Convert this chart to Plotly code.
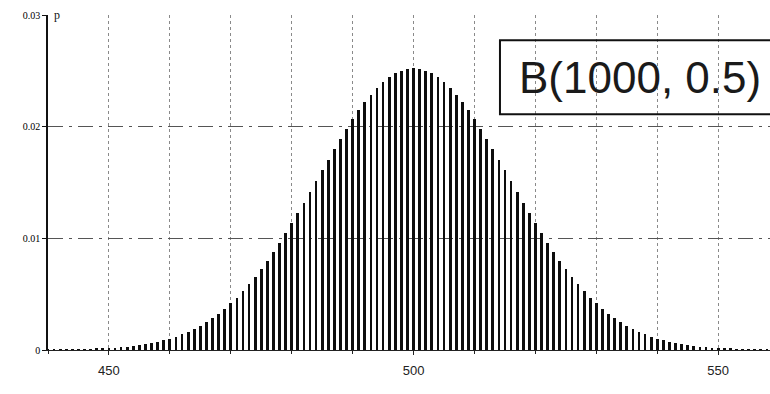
import plotly.graph_objects as go

# Number of successes k and its probability p(k) for B(1000, 0.5)
k_values = list(range(440, 559))
p_values = [
    # k = 440 .. 499
    0.00002, 0.00002, 0.00003, 0.00004, 0.00005, 0.00006, 0.00007, 0.00009, 0.00011, 0.00014,
    0.00017, 0.00021, 0.00025, 0.00030, 0.00037, 0.00044, 0.00053, 0.00063, 0.00074, 0.00087,
    0.00103, 0.00120, 0.00141, 0.00163, 0.00189, 0.00218, 0.00250, 0.00286, 0.00325, 0.00369,
    0.00417, 0.00469, 0.00526, 0.00587, 0.00653, 0.00723, 0.00797, 0.00876, 0.00958, 0.01044,
    0.01134, 0.01226, 0.01320, 0.01415, 0.01512, 0.01609, 0.01705, 0.01799, 0.01892, 0.01981,
    0.02066, 0.02146, 0.02220, 0.02287, 0.02348, 0.02400, 0.02444, 0.02478, 0.02503, 0.02518,
    # k = 500
    0.02523,
    # k = 501 .. 558
    0.02518, 0.02503, 0.02478, 0.02444, 0.02400, 0.02348, 0.02287, 0.02220, 0.02146, 0.02066,
    0.01981, 0.01892, 0.01799, 0.01705, 0.01609, 0.01512, 0.01415, 0.01320, 0.01226, 0.01134,
    0.01044, 0.00958, 0.00876, 0.00797, 0.00723, 0.00653, 0.00587, 0.00526, 0.00469, 0.00417,
    0.00369, 0.00325, 0.00286, 0.00250, 0.00218, 0.00189, 0.00163, 0.00141, 0.00120, 0.00103,
    0.00087, 0.00074, 0.00063, 0.00053, 0.00044, 0.00037, 0.00030, 0.00025, 0.00021, 0.00017,
    0.00014, 0.00011, 0.00009, 0.00007, 0.00006, 0.00005, 0.00004, 0.00003,
]

x_ticks = [450, 500, 550]
y_ticks = [0, 0.01, 0.02, 0.03]
y_tick_text = ["0", "0.01", "0.02", "0.03"]
title_text = "B(1000, 0.5)"

fig = go.Figure()
fig.add_trace(go.Bar(
    x=k_values,
    y=p_values,
    width=0.45,
    marker=dict(color="#0d0d0d", line=dict(width=0)),
    hoverinfo="x+y",
))

fig.update_layout(
    width=770,
    height=394,
    margin=dict(l=48, r=0, t=15, b=44),
    paper_bgcolor="white",
    plot_bgcolor="white",
    showlegend=False,
    bargap=0,
    xaxis=dict(
        range=[440, 558.5],
        tickvals=x_ticks,
        ticktext=[str(v) for v in x_ticks],
        ticks="outside",
        ticklen=4,
        tickcolor="#222",
        ticklabelstandoff=4,
        showline=True,
        linecolor="#222",
        linewidth=1,
        showgrid=True,
        gridcolor="#8a8a8a",
        gridwidth=1,
        griddash="dot",
        zeroline=False,
        minor=dict(
            dtick=10,
            tick0=440,
            showgrid=True,
            gridcolor="#8a8a8a",
            gridwidth=1,
            griddash="dot",
            ticks="outside",
            ticklen=3,
            tickcolor="#222",
        ),
        tickfont=dict(family="Liberation Sans, Arial", size=13, color="#222"),
    ),
    yaxis=dict(
        range=[0, 0.03],
        tickvals=y_ticks,
        ticktext=y_tick_text,
        ticks="outside",
        ticklen=4,
        tickcolor="#111",
        showline=True,
        linecolor="#111",
        linewidth=1.5,
        showgrid=True,
        gridcolor="#555",
        gridwidth=1,
        griddash="longdashdot",
        zeroline=False,
        tickfont=dict(family="Liberation Serif, Times New Roman", size=10, color="#000"),
    ),
)

# Axis name beside the top of the probability axis
fig.add_annotation(
    x=0.006, y=1.0, xref="paper", yref="paper",
    xanchor="left", yanchor="middle",
    text="p", showarrow=False,
    font=dict(family="Liberation Serif, Times New Roman", size=12, color="#111"),
)

# Framed distribution label, running off the right edge
fig.add_shape(
    type="rect", xref="paper", yref="paper",
    x0=0.626, x1=1.05, y0=0.704, y1=0.925,
    line=dict(color="#111", width=2),
    fillcolor="rgba(0,0,0,0)",
)
fig.add_annotation(
    x=0.82, y=0.812, xref="paper", yref="paper",
    xanchor="center", yanchor="middle",
    text=title_text, showarrow=False,
    font=dict(family="Liberation Sans, Arial", size=44, color="#1a1a1a"),
)

fig.write_html("out.html")
